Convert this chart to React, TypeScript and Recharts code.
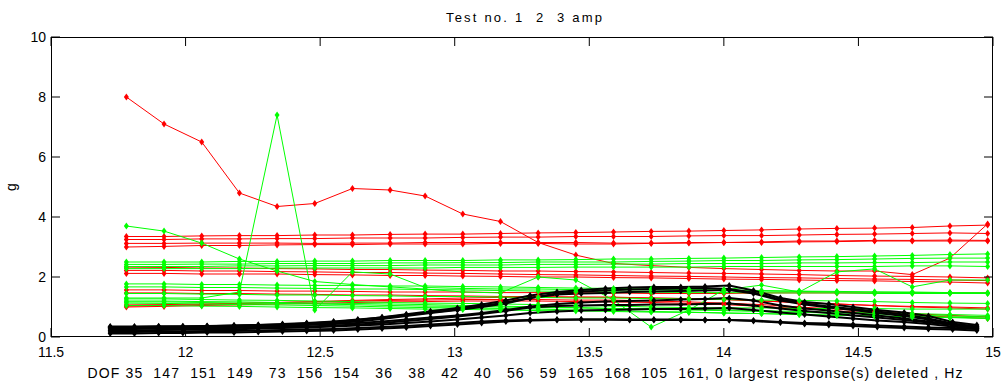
import { LineChart, Line, XAxis, YAxis } from 'recharts';

// frequency grid (Hz) for tests 2 and 3, and the finer grid of test 1
const FREQ = [11.78, 11.92, 12.06, 12.2, 12.34, 12.48, 12.62, 12.76, 12.89, 13.03, 13.17, 13.31, 13.45, 13.59, 13.73, 13.87, 14.0, 14.14, 14.28, 14.42, 14.56, 14.7, 14.84, 14.98];
const FREQ_FINE = [11.72, 11.81, 11.9, 11.99, 12.08, 12.18, 12.27, 12.36, 12.45, 12.55, 12.64, 12.73, 12.82, 12.91, 13.01, 13.1, 13.19, 13.28, 13.38, 13.47, 13.56, 13.65, 13.74, 13.84, 13.93, 14.02, 14.11, 14.21, 14.3, 14.39, 14.48, 14.57, 14.67, 14.76, 14.85, 14.94];

const X_TICKS = [11.5, 12, 12.5, 13, 13.5, 14, 14.5, 15];
const Y_TICKS = [0, 2, 4, 6, 8, 10];

// test 3 (red), g per DOF
const RED = [
  [8.0, 7.1, 6.5, 4.8, 4.35, 4.45, 4.95, 4.9, 4.7, 4.1, 3.85, 3.15, 2.73, 2.45, 2.38, 2.32, 2.28, 2.25, 2.22, 2.2, 2.2, 2.08, 2.63, 3.77],
  [3.35, 3.35, 3.37, 3.38, 3.38, 3.4, 3.4, 3.42, 3.43, 3.43, 3.45, 3.47, 3.48, 3.5, 3.52, 3.53, 3.55, 3.57, 3.6, 3.62, 3.63, 3.65, 3.7, 3.73],
  [3.25, 3.25, 3.27, 3.27, 3.28, 3.28, 3.3, 3.3, 3.3, 3.32, 3.33, 3.33, 3.35, 3.35, 3.35, 3.37, 3.38, 3.38, 3.4, 3.42, 3.43, 3.45, 3.47, 3.45],
  [3.12, 3.12, 3.13, 3.13, 3.13, 3.12, 3.13, 3.13, 3.15, 3.15, 3.15, 3.15, 3.15, 3.13, 3.13, 3.15, 3.15, 3.17, 3.2, 3.2, 3.22, 3.22, 3.23, 3.22],
  [3.0, 3.02, 3.05, 3.05, 3.07, 3.08, 3.08, 3.1, 3.1, 3.1, 3.12, 3.12, 3.1, 3.1, 3.12, 3.13, 3.15, 3.15, 3.17, 3.18, 3.2, 3.2, 3.2, 3.2],
  [2.33, 2.32, 2.3, 2.3, 2.28, 2.27, 2.25, 2.25, 2.23, 2.22, 2.2, 2.2, 2.18, 2.17, 2.15, 2.13, 2.12, 2.1, 2.08, 2.05, 2.03, 2.02, 2.0, 1.97],
  [2.22, 2.22, 2.2, 2.2, 2.18, 2.17, 2.15, 2.15, 2.13, 2.12, 2.1, 2.08, 2.07, 2.05, 2.03, 2.02, 2.0, 1.98, 1.97, 1.95, 1.93, 1.92, 1.9, 1.88],
  [2.12, 2.12, 2.1, 2.1, 2.1, 2.08, 2.07, 2.05, 2.05, 2.03, 2.02, 2.0, 2.0, 1.98, 1.97, 1.95, 1.93, 1.92, 1.9, 1.88, 1.87, 1.85, 1.83, 1.8],
  [1.57, 1.57, 1.55, 1.55, 1.53, 1.53, 1.52, 1.5, 1.5, 1.5, 1.48, 1.48, 1.47, 1.47, 1.45, 1.45, 1.45, 1.47, 1.47, 1.47, 1.47, 1.47, 1.47, 1.47],
  [1.47, 1.47, 1.45, 1.45, 1.43, 1.42, 1.4, 1.4, 1.38, 1.37, 1.35, 1.35, 1.33, 1.33, 1.3, 1.28, 1.25, 1.2, 1.15, 1.1, 1.05, 1.0, 0.97, 0.93],
  [1.07, 1.08, 1.1, 1.12, 1.15, 1.17, 1.2, 1.22, 1.23, 1.25, 1.25, 1.25, 1.23, 1.23, 1.2, 1.17, 1.13, 1.08, 1.0, 0.93, 0.85, 0.78, 0.72, 0.67],
  [1.0, 1.02, 1.05, 1.07, 1.1, 1.12, 1.15, 1.17, 1.18, 1.2, 1.2, 1.2, 1.18, 1.17, 1.15, 1.12, 1.08, 1.02, 0.95, 0.87, 0.8, 0.72, 0.67, 0.62],
  [1.03, 1.05, 1.08, 1.12, 1.15, 1.18, 1.22, 1.25, 1.27, 1.3, 1.32, 1.33, 1.33, 1.32, 1.3, 1.28, 1.25, 1.2, 1.15, 1.1, 1.05, 1.02, 1.0, 0.97],
];

// test 2 (green)
const GREEN = [
  [1.3, 1.3, 1.3, 1.5, 7.4, 0.9, 2.17, 2.1, 1.65, 1.62, 1.6, 1.6, 1.58, 1.57, 1.57, 1.55, 1.55, 1.53, 1.52, 1.5, 1.5, 1.48, 1.47, 1.47],
  [3.7, 3.53, 3.13, 2.6, 2.2, 1.85, 1.75, 1.67, 1.6, 1.5, 1.47, 2.0, 1.9, 1.23, 0.33, 0.9, 1.57, 1.73, 1.5, 2.17, 2.27, 1.67, 1.9, 1.9],
  [2.5, 2.5, 2.5, 2.52, 2.52, 2.53, 2.53, 2.55, 2.55, 2.55, 2.57, 2.57, 2.58, 2.6, 2.6, 2.62, 2.63, 2.65, 2.67, 2.68, 2.7, 2.72, 2.75, 2.77],
  [2.42, 2.42, 2.43, 2.43, 2.45, 2.45, 2.45, 2.47, 2.47, 2.48, 2.48, 2.5, 2.5, 2.5, 2.52, 2.53, 2.55, 2.55, 2.57, 2.58, 2.6, 2.62, 2.63, 2.63],
  [2.35, 2.35, 2.35, 2.37, 2.37, 2.38, 2.38, 2.38, 2.4, 2.4, 2.4, 2.42, 2.42, 2.43, 2.43, 2.45, 2.45, 2.45, 2.47, 2.47, 2.48, 2.48, 2.5, 2.5],
  [2.28, 2.28, 2.28, 2.28, 2.3, 2.3, 2.3, 2.3, 2.3, 2.32, 2.32, 2.32, 2.33, 2.33, 2.33, 2.33, 2.35, 2.35, 2.35, 2.35, 2.35, 2.37, 2.37, 2.35],
  [1.77, 1.77, 1.75, 1.75, 1.73, 1.72, 1.72, 1.7, 1.7, 1.68, 1.67, 1.65, 1.63, 1.62, 1.6, 1.58, 1.57, 1.55, 1.53, 1.52, 1.5, 1.5, 1.48, 1.47],
  [1.67, 1.67, 1.65, 1.65, 1.63, 1.62, 1.6, 1.6, 1.58, 1.57, 1.55, 1.53, 1.52, 1.5, 1.5, 1.48, 1.48, 1.47, 1.47, 1.47, 1.45, 1.45, 1.45, 1.45],
  [1.45, 1.45, 1.43, 1.42, 1.4, 1.4, 1.38, 1.37, 1.35, 1.35, 1.33, 1.32, 1.3, 1.3, 1.28, 1.27, 1.25, 1.23, 1.22, 1.2, 1.18, 1.15, 1.13, 1.12],
  [1.27, 1.27, 1.25, 1.23, 1.22, 1.2, 1.18, 1.15, 1.13, 1.12, 1.1, 1.08, 1.05, 1.03, 1.0, 0.98, 0.97, 0.97, 0.95, 0.95, 0.95, 0.93, 0.93, 0.93],
  [1.2, 1.2, 1.18, 1.17, 1.15, 1.13, 1.12, 1.1, 1.08, 1.05, 1.03, 1.0, 0.98, 0.95, 0.93, 0.9, 0.88, 0.85, 0.82, 0.8, 0.77, 0.73, 0.7, 0.67],
  [1.17, 1.17, 1.15, 1.13, 1.12, 1.1, 1.08, 1.05, 1.03, 1.02, 1.0, 0.98, 0.97, 0.95, 0.93, 0.92, 0.9, 0.88, 0.85, 0.83, 0.8, 0.78, 0.75, 0.72],
  [1.13, 1.12, 1.1, 1.08, 1.07, 1.05, 1.03, 1.0, 0.98, 0.97, 0.95, 0.93, 0.9, 0.88, 0.85, 0.83, 0.8, 0.78, 0.75, 0.72, 0.7, 0.67, 0.65, 0.63],
  [1.05, 1.05, 1.03, 1.02, 1.0, 0.98, 0.97, 0.95, 0.93, 0.92, 0.9, 0.88, 0.87, 0.85, 0.83, 0.82, 0.8, 0.78, 0.75, 0.73, 0.7, 0.68, 0.65, 0.62],
];

// test 1 (black)
const BLACK = [
  [0.35, 0.35, 0.36, 0.36, 0.37, 0.38, 0.4, 0.42, 0.45, 0.5, 0.57, 0.66, 0.76, 0.86, 0.97, 1.08, 1.22, 1.38, 1.5, 1.57, 1.62, 1.65, 1.67, 1.67, 1.68, 1.72, 1.55, 1.3, 1.17, 1.1, 1.0, 0.9, 0.82, 0.7, 0.5, 0.4],
  [0.32, 0.32, 0.33, 0.33, 0.35, 0.36, 0.37, 0.4, 0.43, 0.47, 0.52, 0.6, 0.7, 0.8, 0.9, 1.0, 1.12, 1.3, 1.45, 1.52, 1.55, 1.58, 1.6, 1.62, 1.63, 1.6, 1.48, 1.25, 1.12, 1.02, 0.93, 0.85, 0.75, 0.62, 0.45, 0.35],
  [0.33, 0.33, 0.34, 0.35, 0.36, 0.38, 0.4, 0.43, 0.47, 0.52, 0.58, 0.65, 0.73, 0.82, 0.92, 1.03, 1.15, 1.3, 1.42, 1.45, 1.47, 1.5, 1.52, 1.53, 1.55, 1.57, 1.45, 1.22, 1.08, 0.98, 0.9, 0.8, 0.7, 0.58, 0.42, 0.3],
  [0.3, 0.3, 0.3, 0.31, 0.32, 0.33, 0.35, 0.37, 0.4, 0.43, 0.47, 0.52, 0.58, 0.65, 0.72, 0.8, 0.9, 1.02, 1.1, 1.15, 1.18, 1.2, 1.22, 1.25, 1.27, 1.3, 1.22, 1.05, 0.95, 0.88, 0.8, 0.72, 0.62, 0.52, 0.42, 0.33],
  [0.27, 0.27, 0.28, 0.28, 0.3, 0.3, 0.32, 0.33, 0.35, 0.38, 0.42, 0.47, 0.53, 0.6, 0.68, 0.77, 0.87, 0.98, 1.03, 1.05, 1.07, 1.07, 1.08, 1.08, 1.1, 1.12, 1.05, 0.95, 0.87, 0.8, 0.72, 0.65, 0.57, 0.48, 0.4, 0.3],
  [0.22, 0.22, 0.23, 0.24, 0.25, 0.26, 0.28, 0.3, 0.32, 0.35, 0.38, 0.42, 0.47, 0.52, 0.58, 0.65, 0.72, 0.8, 0.85, 0.88, 0.9, 0.92, 0.93, 0.93, 0.95, 0.97, 0.9, 0.82, 0.75, 0.68, 0.62, 0.55, 0.5, 0.43, 0.35, 0.27],
  [0.17, 0.17, 0.18, 0.18, 0.2, 0.2, 0.22, 0.23, 0.25, 0.27, 0.3, 0.33, 0.37, 0.42, 0.47, 0.52, 0.55, 0.57, 0.58, 0.58, 0.58, 0.57, 0.57, 0.57, 0.57, 0.57, 0.55, 0.5, 0.47, 0.45, 0.42, 0.38, 0.35, 0.32, 0.3, 0.27],
  [0.12, 0.12, 0.13, 0.13, 0.15, 0.15, 0.17, 0.18, 0.2, 0.22, 0.25, 0.28, 0.32, 0.37, 0.42, 0.47, 0.52, 0.55, 0.57, 0.58, 0.58, 0.58, 0.58, 0.58, 0.57, 0.57, 0.53, 0.48, 0.43, 0.4, 0.37, 0.33, 0.3, 0.27, 0.25, 0.22],
];

const TITLE = 'Test no. 1  2  3 amp';
const X_LABEL = 'DOF 35  147  151  149   73  156  154   36   38   42   40   56   59  165  168  105  161, 0 largest response(s) deleted , Hz';
const Y_LABEL = 'g';

const W = 1006;
const H = 385;
const LEFT = 51;
const RIGHT = 993;
const TOP = 37;
const BOTTOM = 337;
const TICK = 9;
const FONT = '"Liberation Sans", Arial, Helvetica, sans-serif';

const toRows = (xs: number[], ys: number[]) => xs.map((x, i) => ({ x, y: ys[i] }));

const diamond = (color: string) => (p: any) => {
  const { cx, cy, index } = p;
  if (cx == null || cy == null) return <g key={index} />;
  return (
    <path
      key={index}
      d={`M${cx},${cy - 3.5}L${cx + 2.5},${cy}L${cx},${cy + 3.5}L${cx - 2.5},${cy}Z`}
      fill={color}
    />
  );
};

function XTick({ x, payload }: any) {
  return (
    <g>
      <line x1={x} x2={x} y1={BOTTOM} y2={BOTTOM - TICK} stroke="#000" />
      <line x1={x} x2={x} y1={TOP} y2={TOP + TICK} stroke="#000" />
      <text x={x} y={357} textAnchor="middle" fontSize={14} fontFamily={FONT} fill="#000">
        {payload.value}
      </text>
    </g>
  );
}

function YTick({ y, payload }: any) {
  return (
    <g>
      <line x1={LEFT} x2={LEFT + TICK} y1={y} y2={y} stroke="#000" />
      <line x1={RIGHT} x2={RIGHT - TICK} y1={y} y2={y} stroke="#000" />
      <text x={46} y={y + 5} textAnchor="end" fontSize={14} fontFamily={FONT} fill="#000">
        {payload.value}
      </text>
    </g>
  );
}

function series(rows: number[][], xs: number[], color: string, width: number, prefix: string) {
  return rows.map((ys, i) => (
    <Line
      key={`${prefix}-${i}`}
      data={toRows(xs, ys)}
      dataKey="y"
      type="linear"
      stroke={color}
      strokeWidth={width}
      dot={diamond(color)}
      activeDot={false}
      isAnimationActive={false}
    />
  ));
}

export default function App() {
  return (
    <div style={{ position: 'relative', width: W, height: H, background: '#fff' }}>
      <style>{'body{margin:0}'}</style>
      <LineChart width={W} height={H} margin={{ top: TOP, right: W - RIGHT, bottom: 18, left: 0 }}>
        <XAxis
          type="number"
          dataKey="x"
          domain={[11.5, 15]}
          ticks={X_TICKS}
          interval={0}
          tick={<XTick />}
          tickLine={false}
          axisLine={false}
          height={30}
        />
        <YAxis
          type="number"
          domain={[0, 10]}
          ticks={Y_TICKS}
          interval={0}
          tick={<YTick />}
          tickLine={false}
          axisLine={false}
          width={LEFT}
        />
        {series(RED, FREQ, '#ff0000', 1, 'r')}
        {series(GREEN, FREQ, '#00ff00', 1, 'g')}
        {series(BLACK, FREQ_FINE, '#000000', 2, 'b')}
      </LineChart>
      <svg width={W} height={H} style={{ position: 'absolute', left: 0, top: 0, pointerEvents: 'none' }}>
        <rect x={LEFT + 0.5} y={TOP + 0.5} width={RIGHT - LEFT - 1} height={BOTTOM - TOP - 1} fill="none" stroke="#000" />
        <text x={524} y={22} textAnchor="middle" fontSize={13} fontFamily={FONT} textLength={156} lengthAdjust="spacing" style={{ whiteSpace: 'pre' }}>
          {TITLE}
        </text>
        <text x={525} y={378} textAnchor="middle" fontSize={14} fontFamily={FONT} textLength={875} lengthAdjust="spacing" style={{ whiteSpace: 'pre' }}>
          {X_LABEL}
        </text>
        <text x={16} y={187} textAnchor="middle" fontSize={14} fontFamily={FONT} transform="rotate(-90 16 187)">
          {Y_LABEL}
        </text>
      </svg>
    </div>
  );
}
